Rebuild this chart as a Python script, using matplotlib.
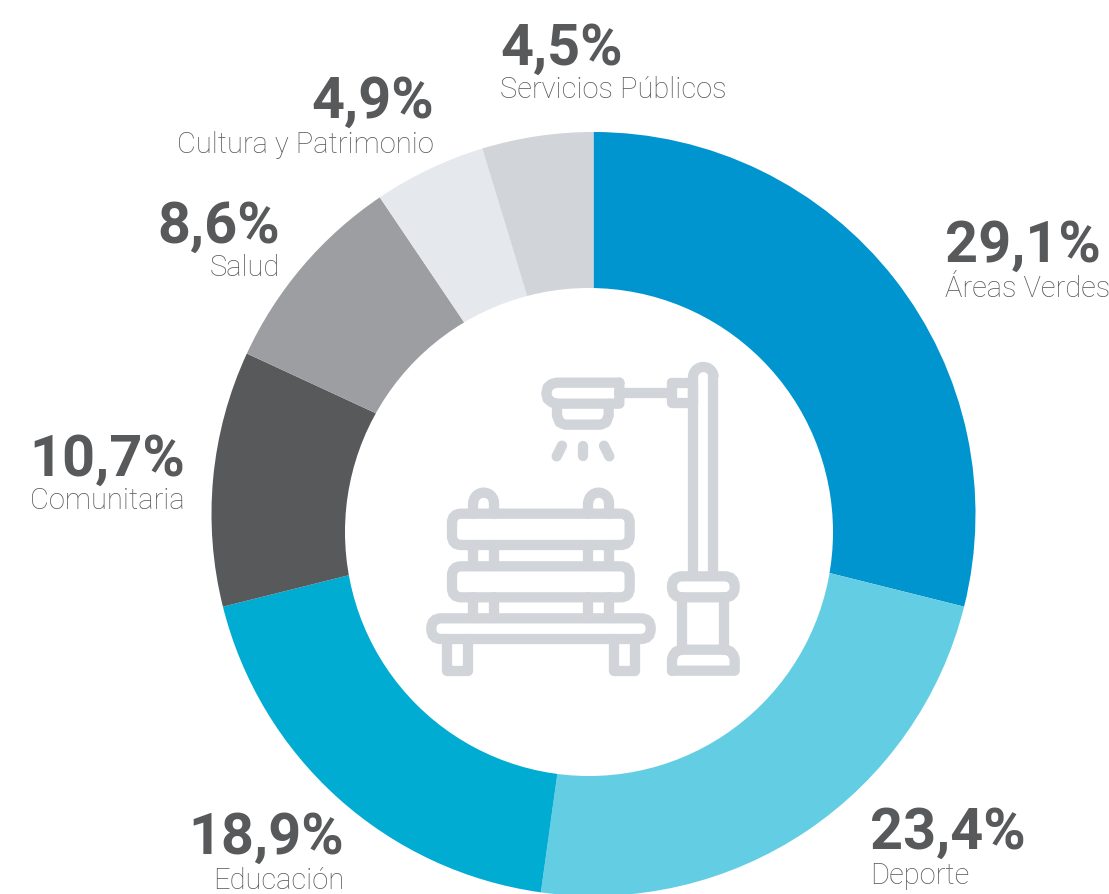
import matplotlib
matplotlib.use("Agg")
import matplotlib.pyplot as plt
from matplotlib.patches import FancyBboxPatch, Arc, Circle

# Chart data
categories = ["Áreas Verdes", "Deporte", "Educación", "Comunitaria", "Salud",
              "Cultura y Patrimonio", "Servicios Públicos"]
# slice sizes as drawn in the picture (they differ a little from the printed labels)
values = [28.9, 23.3, 18.9, 10.8, 8.65, 4.75, 4.7]
colors = ["#0095CF", "#63CDE4", "#00ACD2", "#58595B", "#9D9EA1", "#E5E8ED", "#D1D4D9"]
value_labels = ["29,1%", "23,4%", "18,9%", "10,7%", "8,6%", "4,9%", "4,5%"]

# x, value baseline, label baseline, alignment (in image pixels)
label_pos = [
    (945, 262, 297, "left"),
    (870, 849, 884, "left"),
    (344, 854, 889, "right"),
    (185, 476, 509, "right"),
    (280, 243, 276, "right"),
    (434, 118, 153, "right"),
    (500, 65, 98, "left"),
]

W, H = 1109, 895
ICON = "#D1D4D9"
fig = plt.figure(figsize=(W / 100, H / 100), dpi=100)

# Donut
ax = fig.add_axes([0, 0, 1, 1])
ax.pie(values, colors=colors, startangle=90, counterclock=False, center=(593.5, H - 515),
       radius=382, wedgeprops=dict(linewidth=0))
ax.set_xlim(0, W)
ax.set_ylim(0, H)
ax.axis("off")

# Overlay in image pixels, y going down
ov = fig.add_axes([0, 0, 1, 1])
ov.set_xlim(0, W)
ov.set_ylim(H, 0)
ov.axis("off")
ov.patch.set_alpha(0)

# The hole sits lower and left of the centre of the ring
ov.add_patch(Circle((589, 533), 244, fc="white", ec="none"))

for i, (x, y1, y2, ha) in enumerate(label_pos):
    ov.text(x, y1, value_labels[i], family="Roboto", weight="bold", fontsize=41.5,
            color="#58595B", ha=ha, va="baseline")
    ov.text(x, y2, categories[i], family="Roboto", weight="light", fontsize=21,
            color="#58595B", ha=ha, va="baseline")


def px(x):
    return 410 + x / 3


def py(y):
    return 350 + y / 3


LW = 7.4


def line(xs, ys):
    ov.plot([px(x) for x in xs], [py(y) for y in ys], color=ICON, lw=LW,
            solid_capstyle="round", solid_joinstyle="round")


def rrect(x0, y0, x1, y1, r):
    ov.add_patch(FancyBboxPatch((px(x0), py(y0)), (x1 - x0) / 3, (y1 - y0) / 3,
                                boxstyle=f"round,pad=0,rounding_size={r / 3}",
                                fc="none", ec=ICON, lw=LW))


def arc(cx, cy, r):
    # upper half circle (y axis is inverted, so 180..360 is the top)
    ov.add_patch(Arc((px(cx), py(cy)), 2 * r / 3, 2 * r / 3, theta1=180, theta2=360,
                     ec=ICON, lw=LW))


# Lamp post
line([849, 849], [85, 680])
line([910, 910], [85, 680])
arc(880, 85, 31)
line([785, 849, 849, 785, 785], [103, 103, 163, 163, 103])
line([628, 785], [133, 133])
# Lamp head
line([628, 628, 440, 425, 413, 409, 413, 425, 440, 628],
     [101, 164, 164, 160, 150, 133, 115, 105, 101, 101])
line([441, 441, 449, 465, 572, 588, 596, 596], [164, 200, 220, 227, 227, 220, 200, 164])
# Light rays
line([456, 440], [290, 322])
line([518, 518], [290, 322])
line([582, 598], [290, 322])

# Bench
rrect(126, 494, 659, 588, 28)
rrect(126, 652, 659, 745, 28)
rrect(64, 808, 722, 870, 30)
for x in [190, 252, 535, 597]:
    line([x, x], [588, 652])
    line([x, x], [745, 808])
    line([x, x], [462, 494])
arc(221, 462, 31)
arc(566, 462, 31)
line([111, 111, 174, 174], [870, 965, 965, 870])
line([613, 613, 676, 676], [870, 965, 965, 870])

# Lamp base
rrect(786, 682, 974, 745, 31)
line([817, 817], [745, 902])
line([943, 943], [745, 902])
line([786, 786, 790, 798, 812, 948, 962, 970, 974, 974, 786],
     [965, 930, 918, 908, 902, 902, 908, 918, 930, 965, 965])

fig.savefig("out.png", dpi=100)
